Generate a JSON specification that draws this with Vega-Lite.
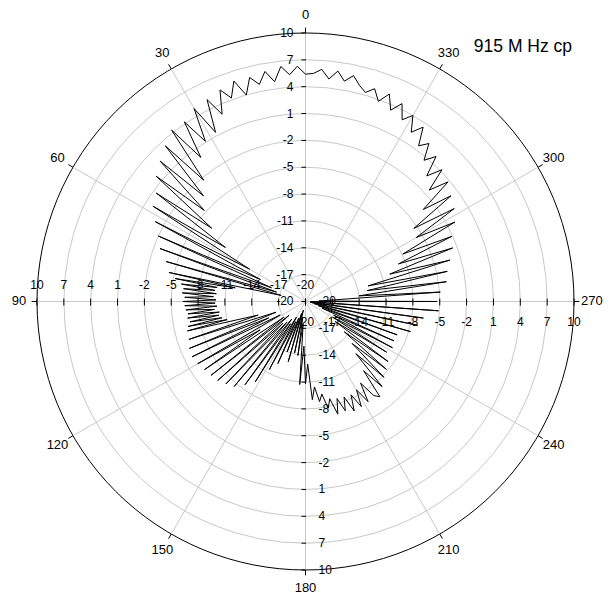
{
  "$schema": "https://vega.github.io/schema/vega-lite/v6.json",
  "width": 612,
  "height": 605,
  "padding": 0,
  "autosize": {"type": "none"},
  "background": "white",
  "config": {"view": {"stroke": null}},
  "datasets": {
    "pattern": [
      {"a":0,"v":5.4},{"a":2,"v":6.3},{"a":4,"v":5.4},{"a":6,"v":6.4},{"a":8,"v":4.8},{"a":10,"v":6.1},{"a":12,"v":4.8},{"a":14,"v":5.8},{"a":16,"v":4.0},{"a":18,"v":5.9},
      {"a":20,"v":4.2},{"a":22,"v":5.5},{"a":24,"v":2.9},{"a":26,"v":5.1},{"a":28,"v":1.4},{"a":30,"v":4.9},{"a":32,"v":1.1},{"a":34,"v":4.2},{"a":36,"v":-0.1},{"a":38,"v":4.3},
      {"a":40,"v":-2.3},{"a":42,"v":3.4},{"a":44,"v":-3.6},{"a":46,"v":2.6},{"a":48,"v":-4.8},{"a":50,"v":1.8},{"a":52,"v":-6.7},{"a":54,"v":0.6},{"a":56,"v":-9.2},{"a":58,"v":0.1},
      {"a":60,"v":-12.8},{"a":62,"v":-1.0},{"a":64,"v":-14.4},{"a":66,"v":-2.0},{"a":68,"v":-15.9},{"a":70,"v":-2.7},{"a":72,"v":-16.6},{"a":74,"v":-3.8},{"a":76,"v":-17.2},{"a":78,"v":-4.4},
      {"a":79,"v":-12.0},{"a":80,"v":-5.2},{"a":81,"v":-10.0},{"a":82,"v":-6.0},{"a":83,"v":-9.8},{"a":84,"v":-6.3},{"a":85,"v":-10.0},{"a":86,"v":-6.2},{"a":87,"v":-9.7},{"a":88,"v":-6.5},
      {"a":89,"v":-10.0},{"a":90,"v":-6.3},{"a":91,"v":-9.9},{"a":92,"v":-6.5},{"a":93,"v":-10.1},{"a":94,"v":-6.6},{"a":95,"v":-9.8},{"a":96,"v":-6.8},{"a":97,"v":-10.3},{"a":98,"v":-6.7},
      {"a":99,"v":-10.2},{"a":100,"v":-6.9},{"a":101,"v":-10.5},{"a":102,"v":-6.6},{"a":103,"v":-11.0},{"a":104,"v":-6.4},{"a":106,"v":-14.5},{"a":108,"v":-6.3},{"a":110,"v":-16.5},{"a":112,"v":-6.0},
      {"a":114,"v":-15.5},{"a":116,"v":-5.9},{"a":118,"v":-16.8},{"a":120,"v":-6.1},{"a":122,"v":-14.0},{"a":124,"v":-6.4},{"a":126,"v":-17.0},{"a":128,"v":-6.6},{"a":130,"v":-17.6},{"a":132,"v":-6.8},
      {"a":134,"v":-16.5},{"a":136,"v":-7.2},{"a":138,"v":-16.9},{"a":140,"v":-7.6},{"a":142,"v":-17.5},{"a":144,"v":-8.5},{"a":146,"v":-17.0},{"a":148,"v":-9.4},{"a":150,"v":-18.0},{"a":152,"v":-11.4},
      {"a":154,"v":-17.5},{"a":156,"v":-12.4},{"a":158,"v":-18.0},{"a":160,"v":-14.0},{"a":162,"v":-18.6},{"a":164,"v":-13.0},{"a":166,"v":-19.0},{"a":168,"v":-14.1},{"a":170,"v":-18.2},{"a":172,"v":-13.9},
      {"a":174,"v":-17.5},{"a":176,"v":-10.7},{"a":178,"v":-15.0},{"a":180,"v":-10.8},{"a":182,"v":-13.0},{"a":184,"v":-9.0},{"a":186,"v":-10.4},{"a":188,"v":-8.7},{"a":190,"v":-9.5},{"a":192,"v":-7.8},
      {"a":194,"v":-8.8},{"a":196,"v":-6.9},{"a":198,"v":-8.6},{"a":200,"v":-7.0},{"a":202,"v":-8.5},{"a":204,"v":-6.6},{"a":206,"v":-8.4},{"a":208,"v":-6.7},{"a":210,"v":-8.6},{"a":212,"v":-6.8},
      {"a":214,"v":-9.0},{"a":216,"v":-7.0},{"a":218,"v":-6.5},{"a":220,"v":-9.9},{"a":222,"v":-7.2},{"a":224,"v":-11.9},{"a":226,"v":-7.8},{"a":228,"v":-13.0},{"a":230,"v":-8.2},{"a":232,"v":-14.5},
      {"a":234,"v":-8.6},{"a":236,"v":-16.0},{"a":238,"v":-9.3},{"a":240,"v":-16.5},{"a":242,"v":-9.0},{"a":244,"v":-16.5},{"a":246,"v":-9.2},{"a":248,"v":-18.0},{"a":250,"v":-9.1},{"a":252,"v":-18.5},
      {"a":254,"v":-7.8},{"a":256,"v":-19.0},{"a":258,"v":-7.2},{"a":260,"v":-19.3},{"a":262,"v":-6.7},{"a":264,"v":-19.5},{"a":266,"v":-5.1},{"a":268,"v":-19.5},{"a":270,"v":-5.3},{"a":272,"v":-18.5},
      {"a":274,"v":-4.9},{"a":276,"v":-14.0},{"a":278,"v":-4.1},{"a":280,"v":-13.0},{"a":282,"v":-3.8},{"a":284,"v":-12.8},{"a":286,"v":-3.2},{"a":288,"v":-10.1},{"a":290,"v":-2.5},{"a":292,"v":-8.8},
      {"a":294,"v":-2.1},{"a":296,"v":-7.9},{"a":298,"v":-1.1},{"a":300,"v":-5.7},{"a":302,"v":-0.4},{"a":304,"v":-5.4},{"a":306,"v":0.1},{"a":308,"v":-3.3},{"a":310,"v":0.8},{"a":312,"v":-1.4},
      {"a":314,"v":1.2},{"a":316,"v":-0.5},{"a":318,"v":1.8},{"a":320,"v":0.6},{"a":322,"v":2.4},{"a":324,"v":1.5},{"a":326,"v":3.5},{"a":328,"v":2.3},{"a":330,"v":4.0},{"a":332,"v":3.0},
      {"a":334,"v":4.6},{"a":336,"v":3.4},{"a":338,"v":5.0},{"a":340,"v":3.8},{"a":342,"v":5.0},{"a":344,"v":4.3},{"a":346,"v":4.9},{"a":348,"v":5.8},{"a":350,"v":5.0},{"a":352,"v":6.0},
      {"a":354,"v":5.0},{"a":356,"v":6.0},{"a":358,"v":5.5},{"a":360,"v":5.4}
    ],
    "rings": [{"db":-17},{"db":-14},{"db":-11},{"db":-8},{"db":-5},{"db":-2},{"db":1},{"db":4},{"db":7},{"db":10}],
    "levels": [{"db":-20},{"db":-17},{"db":-14},{"db":-11},{"db":-8},{"db":-5},{"db":-2},{"db":1},{"db":4},{"db":7},{"db":10}],
    "spokes": [{"deg":0},{"deg":30},{"deg":60},{"deg":90},{"deg":120},{"deg":150},{"deg":180},{"deg":210},{"deg":240},{"deg":270},{"deg":300},{"deg":330}],
    "caption": [{"text":"915 M Hz cp"}]
  },
  "layer": [
    {
      "data": {"name": "rings"},
      "transform": [
        {"calculate": "datum.db + 20", "as": "rr"},
        {"calculate": "0", "as": "cx"},
        {"calculate": "0", "as": "cy"}
      ],
      "mark": {"type": "point", "shape": "circle", "filled": false, "opacity": 1, "strokeWidth": 1},
      "encoding": {
        "x": {"field": "cx", "type": "quantitative", "scale": {"domain": [-34.134, 34.246], "nice": false, "zero": false}, "axis": null},
        "y": {"field": "cy", "type": "quantitative", "scale": {"domain": [-33.911, 33.687], "nice": false, "zero": false}, "axis": null},
        "size": {"field": "rr", "type": "quantitative", "scale": {"type": "pow", "exponent": 2, "domain": [0, 30], "range": [0, 288369]}, "legend": null},
        "stroke": {"condition": {"test": "datum.db == 10", "value": "#000000"}, "value": "#c8c8c8"}
      }
    },
    {
      "data": {"name": "spokes"},
      "transform": [
        {"calculate": "0", "as": "cx"},
        {"calculate": "0", "as": "cy"},
        {"calculate": "-30 * sin(datum.deg * PI / 180)", "as": "ex"},
        {"calculate": "30 * cos(datum.deg * PI / 180)", "as": "ey"}
      ],
      "mark": {"type": "rule", "color": "#c8c8c8", "strokeWidth": 1},
      "encoding": {
        "x": {"field": "cx", "type": "quantitative", "scale": {"domain": [-34.134, 34.246], "nice": false, "zero": false}, "axis": null},
        "y": {"field": "cy", "type": "quantitative", "scale": {"domain": [-33.911, 33.687], "nice": false, "zero": false}, "axis": null},
        "x2": {"field": "ex"},
        "y2": {"field": "ey"}
      }
    },
    {
      "data": {"name": "spokes"},
      "transform": [
        {"calculate": "-30 * sin(datum.deg * PI / 180)", "as": "ix"},
        {"calculate": "30 * cos(datum.deg * PI / 180)", "as": "iy"},
        {"calculate": "-30.6 * sin(datum.deg * PI / 180)", "as": "ox"},
        {"calculate": "30.6 * cos(datum.deg * PI / 180)", "as": "oy"}
      ],
      "mark": {"type": "rule", "color": "#000000", "strokeWidth": 1},
      "encoding": {
        "x": {"field": "ix", "type": "quantitative", "scale": {"domain": [-34.134, 34.246], "nice": false, "zero": false}, "axis": null},
        "y": {"field": "iy", "type": "quantitative", "scale": {"domain": [-33.911, 33.687], "nice": false, "zero": false}, "axis": null},
        "x2": {"field": "ox"},
        "y2": {"field": "oy"}
      }
    },
    {
      "data": {"name": "levels"},
      "transform": [
        {"calculate": "datum.db + 20", "as": "rr"},
        {"calculate": "-0.45", "as": "t1"},
        {"calculate": "0.06", "as": "t2"}
      ],
      "mark": {"type": "rule", "color": "#000000", "strokeWidth": 1},
      "encoding": {
        "x": {"field": "t1", "type": "quantitative", "scale": {"domain": [-34.134, 34.246], "nice": false, "zero": false}, "axis": null},
        "x2": {"field": "t2"},
        "y": {"field": "rr", "type": "quantitative", "scale": {"domain": [-33.911, 33.687], "nice": false, "zero": false}, "axis": null}
      }
    },
    {
      "data": {"name": "levels"},
      "transform": [
        {"calculate": "-(datum.db + 20)", "as": "rr"},
        {"calculate": "-0.45", "as": "t1"},
        {"calculate": "0.06", "as": "t2"}
      ],
      "mark": {"type": "rule", "color": "#000000", "strokeWidth": 1},
      "encoding": {
        "x": {"field": "t1", "type": "quantitative", "scale": {"domain": [-34.134, 34.246], "nice": false, "zero": false}, "axis": null},
        "x2": {"field": "t2"},
        "y": {"field": "rr", "type": "quantitative", "scale": {"domain": [-33.911, 33.687], "nice": false, "zero": false}, "axis": null}
      }
    },
    {
      "data": {"name": "levels"},
      "transform": [
        {"calculate": "-(datum.db + 20)", "as": "rr"},
        {"calculate": "0.33", "as": "t1"},
        {"calculate": "-0.45", "as": "t2"}
      ],
      "mark": {"type": "rule", "color": "#000000", "strokeWidth": 1},
      "encoding": {
        "x": {"field": "rr", "type": "quantitative", "scale": {"domain": [-34.134, 34.246], "nice": false, "zero": false}, "axis": null},
        "y": {"field": "t1", "type": "quantitative", "scale": {"domain": [-33.911, 33.687], "nice": false, "zero": false}, "axis": null},
        "y2": {"field": "t2"}
      }
    },
    {
      "data": {"name": "levels"},
      "transform": [
        {"calculate": "datum.db + 20", "as": "rr"},
        {"calculate": "0.33", "as": "t1"},
        {"calculate": "-0.45", "as": "t2"}
      ],
      "mark": {"type": "rule", "color": "#000000", "strokeWidth": 1},
      "encoding": {
        "x": {"field": "rr", "type": "quantitative", "scale": {"domain": [-34.134, 34.246], "nice": false, "zero": false}, "axis": null},
        "y": {"field": "t1", "type": "quantitative", "scale": {"domain": [-33.911, 33.687], "nice": false, "zero": false}, "axis": null},
        "y2": {"field": "t2"}
      }
    },
    {
      "data": {"name": "levels"},
      "transform": [
        {"calculate": "datum.db + 20", "as": "rr"},
        {"calculate": "0", "as": "c0"},
        {"calculate": "'' + datum.db", "as": "label"}
      ],
      "mark": {"type": "text", "font": "Liberation Sans", "fontSize": 12, "align": "right", "baseline": "middle", "dx": -12, "color": "#000000"},
      "encoding": {
        "x": {"field": "c0", "type": "quantitative", "scale": {"domain": [-34.134, 34.246], "nice": false, "zero": false}, "axis": null},
        "y": {"field": "rr", "type": "quantitative", "scale": {"domain": [-33.911, 33.687], "nice": false, "zero": false}, "axis": null},
        "text": {"field": "label", "type": "nominal"}
      }
    },
    {
      "data": {"name": "levels"},
      "transform": [
        {"calculate": "-(datum.db + 20)", "as": "rr"},
        {"calculate": "0", "as": "c0"},
        {"calculate": "'' + datum.db", "as": "label"}
      ],
      "mark": {"type": "text", "font": "Liberation Sans", "fontSize": 12, "align": "left", "baseline": "middle", "dx": 13, "color": "#000000"},
      "encoding": {
        "x": {"field": "c0", "type": "quantitative", "scale": {"domain": [-34.134, 34.246], "nice": false, "zero": false}, "axis": null},
        "y": {"field": "rr", "type": "quantitative", "scale": {"domain": [-33.911, 33.687], "nice": false, "zero": false}, "axis": null},
        "text": {"field": "label", "type": "nominal"}
      }
    },
    {
      "data": {"name": "levels"},
      "transform": [
        {"calculate": "-(datum.db + 20)", "as": "rr"},
        {"calculate": "0", "as": "c0"},
        {"calculate": "'' + datum.db", "as": "label"}
      ],
      "mark": {"type": "text", "font": "Liberation Sans", "fontSize": 12, "align": "center", "baseline": "middle", "dy": -16.5, "color": "#000000"},
      "encoding": {
        "x": {"field": "rr", "type": "quantitative", "scale": {"domain": [-34.134, 34.246], "nice": false, "zero": false}, "axis": null},
        "y": {"field": "c0", "type": "quantitative", "scale": {"domain": [-33.911, 33.687], "nice": false, "zero": false}, "axis": null},
        "text": {"field": "label", "type": "nominal"}
      }
    },
    {
      "data": {"name": "levels"},
      "transform": [
        {"calculate": "datum.db + 20", "as": "rr"},
        {"calculate": "0", "as": "c0"},
        {"calculate": "'' + datum.db", "as": "label"}
      ],
      "mark": {"type": "text", "font": "Liberation Sans", "fontSize": 12, "align": "center", "baseline": "middle", "dy": 21, "color": "#000000"},
      "encoding": {
        "x": {"field": "rr", "type": "quantitative", "scale": {"domain": [-34.134, 34.246], "nice": false, "zero": false}, "axis": null},
        "y": {"field": "c0", "type": "quantitative", "scale": {"domain": [-33.911, 33.687], "nice": false, "zero": false}, "axis": null},
        "text": {"field": "label", "type": "nominal"}
      }
    },
    {
      "data": {"name": "spokes"},
      "transform": [
        {"calculate": "-32 * sin(datum.deg * PI / 180)", "as": "lx"},
        {"calculate": "32 * cos(datum.deg * PI / 180)", "as": "ly"},
        {"calculate": "'' + datum.deg", "as": "label"}
      ],
      "mark": {"type": "text", "font": "Liberation Sans", "fontSize": 13, "align": "center", "baseline": "middle", "color": "#000000"},
      "encoding": {
        "x": {"field": "lx", "type": "quantitative", "scale": {"domain": [-34.134, 34.246], "nice": false, "zero": false}, "axis": null},
        "y": {"field": "ly", "type": "quantitative", "scale": {"domain": [-33.911, 33.687], "nice": false, "zero": false}, "axis": null},
        "text": {"field": "label", "type": "nominal"}
      }
    },
    {
      "data": {"name": "pattern"},
      "transform": [
        {"calculate": "datum.v + 20", "as": "rr"},
        {"calculate": "-datum.rr * sin(datum.a * PI / 180)", "as": "px"},
        {"calculate": "datum.rr * cos(datum.a * PI / 180)", "as": "py"}
      ],
      "mark": {"type": "line", "color": "#000000", "strokeWidth": 1},
      "encoding": {
        "x": {"field": "px", "type": "quantitative", "scale": {"domain": [-34.134, 34.246], "nice": false, "zero": false}, "axis": null},
        "y": {"field": "py", "type": "quantitative", "scale": {"domain": [-33.911, 33.687], "nice": false, "zero": false}, "axis": null},
        "order": {"field": "a", "type": "quantitative"}
      }
    },
    {
      "data": {"name": "caption"},
      "transform": [
        {"calculate": "24.3", "as": "tx"},
        {"calculate": "28.4", "as": "ty"}
      ],
      "mark": {"type": "text", "font": "Liberation Sans", "fontSize": 17.5, "align": "center", "baseline": "middle", "color": "#000000"},
      "encoding": {
        "x": {"field": "tx", "type": "quantitative", "scale": {"domain": [-34.134, 34.246], "nice": false, "zero": false}, "axis": null},
        "y": {"field": "ty", "type": "quantitative", "scale": {"domain": [-33.911, 33.687], "nice": false, "zero": false}, "axis": null},
        "text": {"field": "text", "type": "nominal"}
      }
    }
  ]
}
